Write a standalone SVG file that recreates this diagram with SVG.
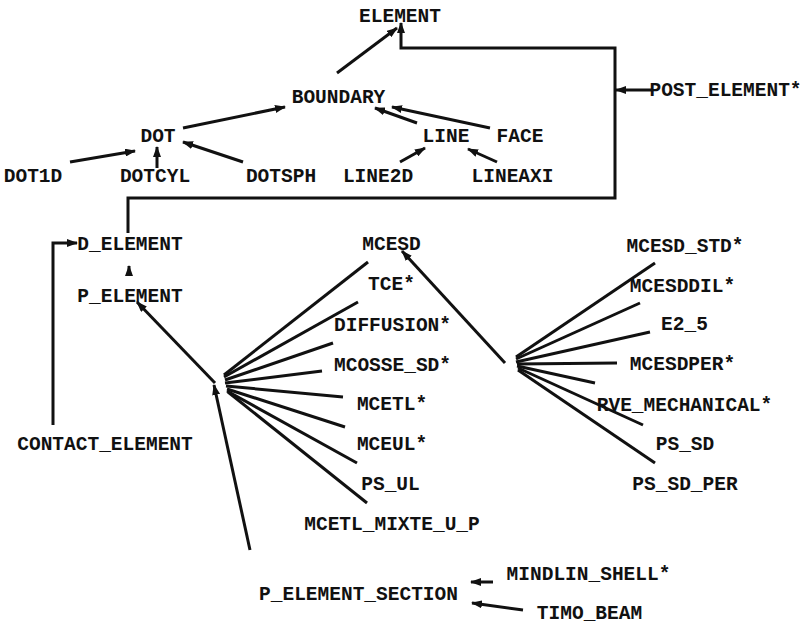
<svg xmlns="http://www.w3.org/2000/svg" width="809" height="625" viewBox="0 0 809 625">
<style>
  text { font-family: "Liberation Mono", "DejaVu Sans Mono", monospace; font-weight: bold; font-size: 19.5px; fill: #111; text-anchor: middle; }
  .c { stroke: #111; stroke-width: 3; fill: none; }
  .a { marker-end: url(#ah); }
</style>
<defs>
  <marker id="ah" markerUnits="userSpaceOnUse" markerWidth="11" markerHeight="8" refX="10" refY="4" orient="auto">
    <path d="M0,0 L11,4 L0,8 z" fill="#111"/>
  </marker>
</defs>
<g id="connectors">
  <line class="c a" x1="337" y1="73" x2="397" y2="28"/>
  <polyline class="c a" points="128,233 128,198 615,198 615,48 401,48 401,23"/>
  <line class="c a" x1="653" y1="90" x2="616" y2="90"/>
  <line class="c a" x1="183" y1="128" x2="285" y2="107"/>
  <line class="c a" x1="70" y1="162" x2="135" y2="151"/>
  <line class="c a" x1="157" y1="168" x2="157" y2="147"/>
  <line class="c a" x1="243" y1="162" x2="183" y2="142"/>
  <line class="c a" x1="417" y1="123" x2="375" y2="108"/>
  <line class="c a" x1="490" y1="128" x2="392" y2="107"/>
  <line class="c a" x1="400" y1="162" x2="425" y2="148"/>
  <line class="c a" x1="497" y1="162" x2="468" y2="149"/>
  <polyline class="c a" points="53,425 53,243 77,243"/>
  <line class="c a" x1="129" y1="275" x2="129" y2="266"/>
  <line class="c a" x1="215" y1="383" x2="137" y2="302"/>
  <line class="c a" x1="250" y1="550" x2="214" y2="385"/>
  <line class="c" x1="224" y1="375" x2="368" y2="262"/>
  <line class="c" x1="224" y1="377" x2="358" y2="302"/>
  <line class="c" x1="225" y1="380" x2="333" y2="343"/>
  <line class="c" x1="225" y1="383" x2="322" y2="371"/>
  <line class="c" x1="226" y1="386" x2="343" y2="397"/>
  <line class="c" x1="227" y1="389" x2="345" y2="427"/>
  <line class="c" x1="227" y1="391" x2="357" y2="463"/>
  <line class="c" x1="228" y1="392" x2="367" y2="503"/>
  <line class="c a" x1="505" y1="363" x2="402" y2="251"/>
  <line class="c" x1="516" y1="357" x2="655" y2="263"/>
  <line class="c" x1="516" y1="359" x2="640" y2="303"/>
  <line class="c" x1="516" y1="362" x2="650" y2="332"/>
  <line class="c" x1="517" y1="364" x2="617" y2="363"/>
  <line class="c" x1="517" y1="366" x2="595" y2="383"/>
  <line class="c" x1="518" y1="368" x2="643" y2="425"/>
  <line class="c" x1="518" y1="370" x2="655" y2="463"/>
  <line class="c a" x1="493" y1="582" x2="471" y2="582"/>
  <line class="c a" x1="523" y1="610" x2="472" y2="603"/>
</g>
<g id="ELEMENT"><text x="400" y="22">ELEMENT</text></g>
<g id="BOUNDARY"><text x="338.5" y="103">BOUNDARY</text></g>
<g id="DOT"><text x="158" y="142">DOT</text></g>
<g id="DOT1D"><text x="33" y="182">DOT1D</text></g>
<g id="DOTCYL"><text x="155" y="182">DOTCYL</text></g>
<g id="DOTSPH"><text x="281" y="182">DOTSPH</text></g>
<g id="LINE2D"><text x="378" y="182">LINE2D</text></g>
<g id="LINEAXI"><text x="512.5" y="182">LINEAXI</text></g>
<g id="LINE"><text x="446" y="142">LINE</text></g>
<g id="FACE"><text x="520" y="142">FACE</text></g>
<g id="POST_ELEMENT"><text x="725.5" y="96">POST_ELEMENT*</text></g>
<g id="D_ELEMENT"><text x="130" y="250">D_ELEMENT</text></g>
<g id="P_ELEMENT"><text x="130" y="302">P_ELEMENT</text></g>
<g id="CONTACT_ELEMENT"><text x="105" y="450">CONTACT_ELEMENT</text></g>
<g id="MCESD"><text x="391.5" y="250">MCESD</text></g>
<g id="TCE"><text x="391.5" y="290">TCE*</text></g>
<g id="DIFFUSION"><text x="392.5" y="331">DIFFUSION*</text></g>
<g id="MCOSSE_SD"><text x="392.5" y="371">MCOSSE_SD*</text></g>
<g id="MCETL"><text x="392" y="410">MCETL*</text></g>
<g id="MCEUL"><text x="392" y="450">MCEUL*</text></g>
<g id="PS_UL"><text x="390.5" y="490">PS_UL</text></g>
<g id="MCETL_MIXTE_U_P"><text x="392" y="530">MCETL_MIXTE_U_P</text></g>
<g id="P_ELEMENT_SECTION"><text x="358.5" y="600">P_ELEMENT_SECTION</text></g>
<g id="MINDLIN_SHELL"><text x="588.5" y="580">MINDLIN_SHELL*</text></g>
<g id="TIMO_BEAM"><text x="589.5" y="619">TIMO_BEAM</text></g>
<g id="MCESD_STD"><text x="685" y="252">MCESD_STD*</text></g>
<g id="MCESDDIL"><text x="682.5" y="292">MCESDDIL*</text></g>
<g id="E2_5"><text x="684.5" y="330">E2_5</text></g>
<g id="MCESDPER"><text x="682.5" y="370">MCESDPER*</text></g>
<g id="RVE_MECHANICAL"><text x="684.5" y="411">RVE_MECHANICAL*</text></g>
<g id="PS_SD"><text x="685" y="450">PS_SD</text></g>
<g id="PS_SD_PER"><text x="685" y="490">PS_SD_PER</text></g>
</svg>
